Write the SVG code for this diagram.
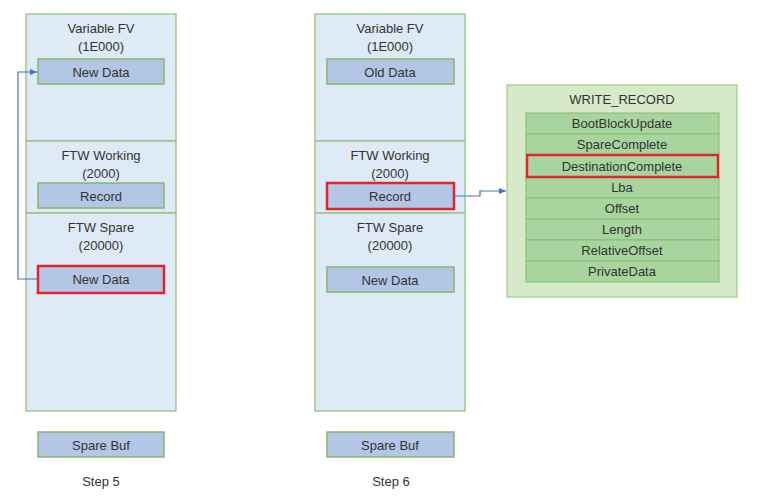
<svg xmlns="http://www.w3.org/2000/svg" width="757" height="497" viewBox="0 0 757 497">
<defs>
<style>
.col{fill:#deebf6;stroke:#92c47a;stroke-width:1.3}
.box{fill:#b3c6e6;stroke:#84b867;stroke-width:1.5}
.red{fill:#b3c6e6;stroke:#e0262b;stroke-width:2.5}
.wr{fill:#d6e9c8;stroke:#a3d08a;stroke-width:1.3}
.row{fill:#a8d4a0;stroke:#84be6c;stroke-width:1}
.rowred{fill:#a8d4a0;stroke:#e0262b;stroke-width:2.5}
text{font-family:"Liberation Sans",Arial,sans-serif;font-size:13px;fill:#333;text-anchor:middle}
.con{fill:none;stroke:#4472c4;stroke-width:1.2}
</style>
<marker id="arr" markerWidth="8" markerHeight="8" refX="7" refY="4" orient="auto" markerUnits="userSpaceOnUse">
<path d="M0,1 L7,4 L0,7 z" fill="#4472c4"/>
</marker>
</defs>
<rect width="757" height="497" fill="#fff"/>

<g id="step5">
<g id="s5-varfv"><rect class="col" x="26" y="14" width="150" height="127"/><text x="101" y="33">Variable FV</text><text x="101" y="51">(1E000)</text></g>
<g id="s5-newdata1"><rect class="box" x="38" y="59" width="126" height="25"/><text x="101" y="77">New Data</text></g>
<g id="s5-ftwworking"><rect class="col" x="26" y="141" width="150" height="72"/><text x="101" y="160">FTW Working</text><text x="101" y="178">(2000)</text></g>
<g id="s5-record"><rect class="box" x="38" y="183" width="126" height="25"/><text x="101" y="201">Record</text></g>
<g id="s5-ftwspare"><rect class="col" x="26" y="213" width="150" height="198"/><text x="101" y="232">FTW Spare</text><text x="101" y="250">(20000)</text></g>
<g id="s5-newdata2"><rect class="red" x="38" y="266" width="126" height="27"/><text x="101" y="284">New Data</text></g>
<g id="s5-sparebuf"><rect class="box" x="38" y="432" width="126" height="25"/><text x="101" y="450">Spare Buf</text></g>
<text x="101" y="486">Step 5</text>
</g>

<g id="step6">
<g id="s6-varfv"><rect class="col" x="315" y="14" width="150" height="127"/><text x="390" y="33">Variable FV</text><text x="390" y="51">(1E000)</text></g>
<g id="s6-olddata"><rect class="box" x="327" y="59" width="127" height="25"/><text x="390" y="77">Old Data</text></g>
<g id="s6-ftwworking"><rect class="col" x="315" y="141" width="150" height="72"/><text x="390" y="160">FTW Working</text><text x="390" y="178">(2000)</text></g>
<g id="s6-record"><rect class="red" x="327" y="183" width="127" height="26"/><text x="390" y="201">Record</text></g>
<g id="s6-ftwspare"><rect class="col" x="315" y="213" width="150" height="198"/><text x="390" y="232">FTW Spare</text><text x="390" y="250">(20000)</text></g>
<g id="s6-newdata"><rect class="box" x="327" y="267" width="127" height="25"/><text x="390" y="285">New Data</text></g>
<g id="s6-sparebuf"><rect class="box" x="327" y="432" width="127" height="25"/><text x="390" y="450">Spare Buf</text></g>
<text x="391" y="486">Step 6</text>
</g>

<g id="write-record">
<rect class="wr" x="507" y="85" width="230" height="212"/>
<text x="622" y="104">WRITE_RECORD</text>
<g id="wr-bootblock"><rect class="row" x="526" y="113" width="193" height="21"/><text x="622" y="128">BootBlockUpdate</text></g>
<g id="wr-sparecomplete"><rect class="row" x="526" y="134" width="193" height="21"/><text x="622" y="149">SpareComplete</text></g>
<g id="wr-lba"><rect class="row" x="526" y="177" width="193" height="21"/><text x="622" y="192">Lba</text></g>
<g id="wr-offset"><rect class="row" x="526" y="198" width="193" height="21"/><text x="622" y="213">Offset</text></g>
<g id="wr-length"><rect class="row" x="526" y="219" width="193" height="21"/><text x="622" y="234">Length</text></g>
<g id="wr-reloffset"><rect class="row" x="526" y="240" width="193" height="21"/><text x="622" y="255">RelativeOffset</text></g>
<g id="wr-privatedata"><rect class="row" x="526" y="261" width="193" height="21"/><text x="622" y="276">PrivateData</text></g>
<g id="wr-destcomplete"><rect class="rowred" x="527" y="155" width="191" height="22"/><text x="622" y="171">DestinationComplete</text></g>
</g>

<g id="connectors">
<path class="con" d="M38,279 H18 V72 H37" marker-end="url(#arr)"/>
<path class="con" d="M454,196 H480 V191 H506" marker-end="url(#arr)"/>
</g>
</svg>
